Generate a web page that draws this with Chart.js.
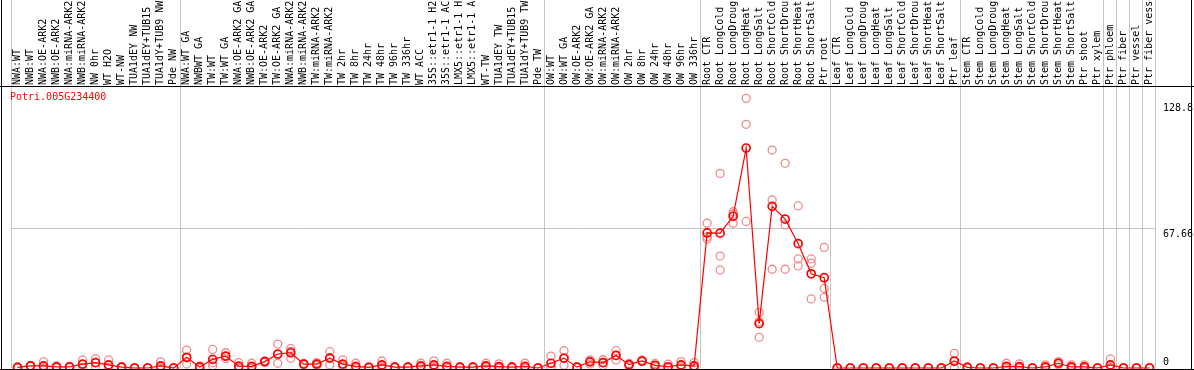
<!DOCTYPE html>
<html>
<head>
<meta charset="utf-8">
<script src="https://cdn.jsdelivr.net/npm/chart.js@4/dist/chart.umd.min.js"></script>
<style>
html, body { margin: 0; padding: 0; background: #fff; }
</style>
</head>
<body>
<canvas id="efp" width="1194" height="370"></canvas>
<script>
const red = "#ff0000"
const pink = "#ec8c8c"
const grid_color = "#c4c4c4"
const mono = '"DejaVu Sans Mono", monospace'

const geneId = "Potri.005G234400"

const categories = [
    "NWA:WT", "NWB:WT", "NWA:OE-ARK2", "NWB:OE-ARK2", "NWA:miRNA-ARK2", "NWB:miRNA-ARK2",
    "NW 0hr", "WT H2O", "WT-NW", "TUA1dEY NW", "TUA1dEY+TUB15", "TUA1dY+TUB9 NW", "Pde NW",
    "NWA:WT GA", "NWBWT GA", "TW:WT", "TW:WT GA", "NWA:OE-ARK2 GA", "NWB:OE-ARK2 GA",
    "TW:OE-ARK2", "TW:OE-ARK2 GA", "NWA:miRNA-ARK2", "NWB:miRNA-ARK2", "TW:miRNA-ARK2",
    "TW:miRNA-ARK2", "TW 2hr", "TW 8hr", "TW 24hr", "TW 48hr", "TW 96hr", "TW 336hr", "WT ACC",
    "35S::etr1-1 H2", "35S::etr1-1 AC", "LMX5::etr1-1 H", "LMX5::etr1-1 A", "WT-TW",
    "TUA1dEY TW", "TUA1dEY+TUB15", "TUA1dY+TUB9 TW", "Pde TW",
    "OW:WT", "OW:WT GA", "OW:OE-ARK2", "OW:OE-ARK2 GA", "OW:miRNA-ARK2", "OW:miRNA-ARK2",
    "OW 2hr", "OW 8hr", "OW 24hr", "OW 48hr", "OW 96hr", "OW 336hr",
    "Root CTR", "Root LongCold", "Root LongDroug", "Root LongHeat", "Root LongSalt",
    "Root ShortCold", "Root ShortDrou", "Root ShortHeat", "Root ShortSalt", "Ptr root",
    "Leaf CTR", "Leaf LongCold", "Leaf LongDroug", "Leaf LongHeat", "Leaf LongSalt",
    "Leaf ShortCold", "Leaf ShortDrou", "Leaf ShortHeat", "Leaf ShortSalt", "Ptr leaf",
    "Stem CTR", "Stem LongCold", "Stem LongDroug", "Stem LongHeat", "Stem LongSalt",
    "Stem ShortCold", "Stem ShortDrou", "Stem ShortHeat", "Stem ShortSalt", "Ptr shoot",
    "Ptr xylem", "Ptr phloem", "Ptr fiber", "Ptr vessel", "Ptr fiber vessel"
]

// first category of every block (a grey line is drawn on its left side)
const groupStarts = [0, 13, 41, 53, 63, 73, 84, 85, 86, 87]

const meanValues = [
    0.3, 1.0, 1.0, 0.5, 0.5, 1.9, 2.6, 1.5, 0.4, 0,
    0, 1.0, 0, 5.2, 0.5, 4.2, 5.8, 0.9, 0.8, 3.1,
    6.8, 7.4, 1.9, 1.9, 4.8, 1.9, 0.8, 0.3, 1.5, 0.4,
    0.4, 1.0, 1.5, 0.8, 0.4, 0.4, 1.0, 0.7, 0.4, 0.8,
    0, 2.3, 4.8, 0.4, 3.0, 2.6, 6.1, 1.6, 3.4, 1.3,
    0.6, 1.5, 1.0, 65.5, 65.4, 73.6, 106.7, 21.5, 78.4, 72.2,
    60.3, 45.7, 43.8, 0, 0, 0, 0, 0, 0, 0,
    0, 0, 3.4, 0.3, 0, 0, 0.8, 0.7, 0, 0.5,
    2.3, 0.5, 0.5, 0, 1.5, 0, 0, 0
]

const rep1 = [
    0.5, 1.2, 3.0, 1.0, 0.8, 3.9, 4.5, 3.9, 0.6, 0,
    0, 3.0, 0, 8.7, 1.0, 9.0, 7.4, 2.6, 2.3, 3.5,
    11.6, 9.5, 2.2, 2.6, 7.9, 3.9, 2.3, 0.5, 3.4, 0.6,
    0.6, 2.3, 3.5, 2.3, 0.6, 0.6, 2.3, 2.0, 0.6, 2.3,
    0, 5.8, 8.4, 0.6, 3.9, 4.0, 8.4, 2.2, 3.8, 2.2,
    1.9, 3.1, 2.6, 70.2, 94.4, 75.8, 130.8, 27.0, 105.7, 99.3,
    78.6, 52.9, 58.5, 0, 0, 0, 0, 0, 0, 0,
    0, 0, 7.1, 0.5, 0, 0, 2.3, 2.0, 0, 1.5,
    3.1, 1.5, 1.5, 0, 4.4, 0, 0, 0
]

const rep2 = [
    0.3, 1.0, 0, 0.3, 0.5, 1.6, 2.6, 0.4, 0.4, 0,
    0, 0, 0, 5.0, 0.5, 2.6, 5.5, 0.1, 0.1, 3.1,
    6.5, 8.1, 1.9, 1.9, 5.0, 1.2, 0.1, 0.3, 0.8, 0.4,
    0.4, 0.5, 0.8, 0.1, 0.4, 0.4, 0.5, 0.1, 0.4, 0.1,
    0, 0.6, 4.7, 0.4, 3.2, 2.6, 6.0, 1.6, 3.4, 1.2,
    0, 1.0, 0.3, 63.7, 54.3, 74.7, 118.2, 22.5, 81.5, 69.4,
    52.9, 50.8, 38.6, 0, 0, 0, 0, 0, 0, 0,
    0, 0, 3.0, 0.3, 0, 0, 0.1, 0.1, 0, 0,
    2.3, 0, 0, 0, 0.1, 0, 0, 0
]

const rep3 = [
    0.1, 0.8, 0, 0.2, 0.2, 0.2, 0.7, 0.2, 0.2, 0,
    0, 0, 0, 1.9, 0, 1.0, 4.5, 0, 0, 2.7,
    2.3, 4.7, 1.6, 1.2, 1.5, 0.6, 0, 0.1, 0.3, 0.2,
    0.2, 0.2, 0.2, 0, 0.2, 0.2, 0.2, 0, 0.2, 0,
    0, 0.5, 1.3, 0.2, 1.9, 1.2, 3.9, 1.0, 3.0, 0.5,
    0, 0.4, 0.1, 62.6, 47.5, 70.2, 71.1, 14.9, 47.9, 47.9,
    49.5, 33.5, 34.3, 0, 0, 0, 0, 0, 0, 0,
    0, 0, 0.1, 0.1, 0, 0, 0, 0, 0, 0,
    1.5, 0, 0, 0, 0, 0, 0, 0
]

const yTicks = [0, 67.66, 128.8]
const yMax = 136.3

function rep_dataset(values) {
    return {
        data: values,
        showLine: false,
        pointRadius: 4,
        pointBorderWidth: 1.3,
        pointBorderColor: pink,
        pointBackgroundColor: "transparent",
        clip: false,
    }
}

function no_padding(scale) {
    scale.paddingTop = 0
    scale.paddingBottom = 0
    scale.paddingLeft = 0
    scale.paddingRight = 0
}

// black frame + gene id
const framePlugin = {
    id: "frame",
    afterDraw(chart) {
        const ctx = chart.ctx
        const area = chart.chartArea
        ctx.save()
        ctx.strokeStyle = "#000"
        ctx.lineWidth = 1
        ctx.beginPath()
        ctx.moveTo(1.5, 0); ctx.lineTo(1.5, chart.height)
        ctx.moveTo(chart.width - 2.5, 0); ctx.lineTo(chart.width - 2.5, chart.height)
        ctx.moveTo(0, area.top - 0.5); ctx.lineTo(chart.width, area.top - 0.5)
        ctx.moveTo(0, chart.height - 0.5); ctx.lineTo(chart.width, chart.height - 0.5)
        ctx.stroke()
        ctx.fillStyle = red
        ctx.font = "10px " + mono
        ctx.textBaseline = "alphabetic"
        ctx.fillText(geneId, 10, area.top + 13)
        ctx.restore()
    }
}

new Chart(document.getElementById("efp"), {
    type: "line",
    data: {
        labels: categories,
        datasets: [{
            data: meanValues,
            borderColor: red,
            borderWidth: 1.2,
            tension: 0,
            pointRadius: 4,
            pointBorderWidth: 1.7,
            pointBorderColor: red,
            pointBackgroundColor: "transparent",
            clip: false,
        },
        rep_dataset(rep1),
        rep_dataset(rep2),
        rep_dataset(rep3)]
    },
    options: {
        responsive: false,
        animation: false,
        events: [],
        layout: { autoPadding: false, padding: { left: 11, right: 0, top: 0, bottom: 2 } },
        plugins: {
            legend: { display: false },
            tooltip: { enabled: false },
        },
        scales: {
            x: {
                type: "category",
                position: "top",
                offset: true,
                border: { display: false },
                grid: {
                    offset: true,
                    drawOnChartArea: true,
                    drawTicks: true,
                    tickLength: 90,
                    lineWidth: 1,
                    color: (c) => (c.index === undefined || groupStarts.includes(c.index)) ? grid_color : "transparent",
                },
                ticks: {
                    autoSkip: false,
                    minRotation: 90,
                    maxRotation: 90,
                    mirror: true,
                    padding: -2,
                    color: "#000",
                    font: { family: mono, size: 10 },
                },
                afterFit(scale) {
                    scale.height = 87
                    no_padding(scale)
                },
            },
            y: {
                position: "right",
                min: 0,
                max: yMax,
                border: { display: false },
                grid: {
                    drawTicks: false,
                    color: (c) => (c.tick && c.tick.value === yTicks[1]) ? grid_color : "transparent",
                },
                ticks: {
                    padding: 7,
                    color: "#000",
                    font: { family: mono, size: 10 },
                    // nudge labels the way the original draws them (0 above, others below the value)
                    callback: (v) => v === 0 ? [String(v), ""] : ["", String(v)],
                },
                afterBuildTicks(scale) { scale.ticks = yTicks.map((v) => ({ value: v })) },
                afterFit(scale) {
                    scale.width = 38
                    no_padding(scale)
                },
            }
        }
    },
    plugins: [framePlugin]
});
</script>
</body>
</html>
